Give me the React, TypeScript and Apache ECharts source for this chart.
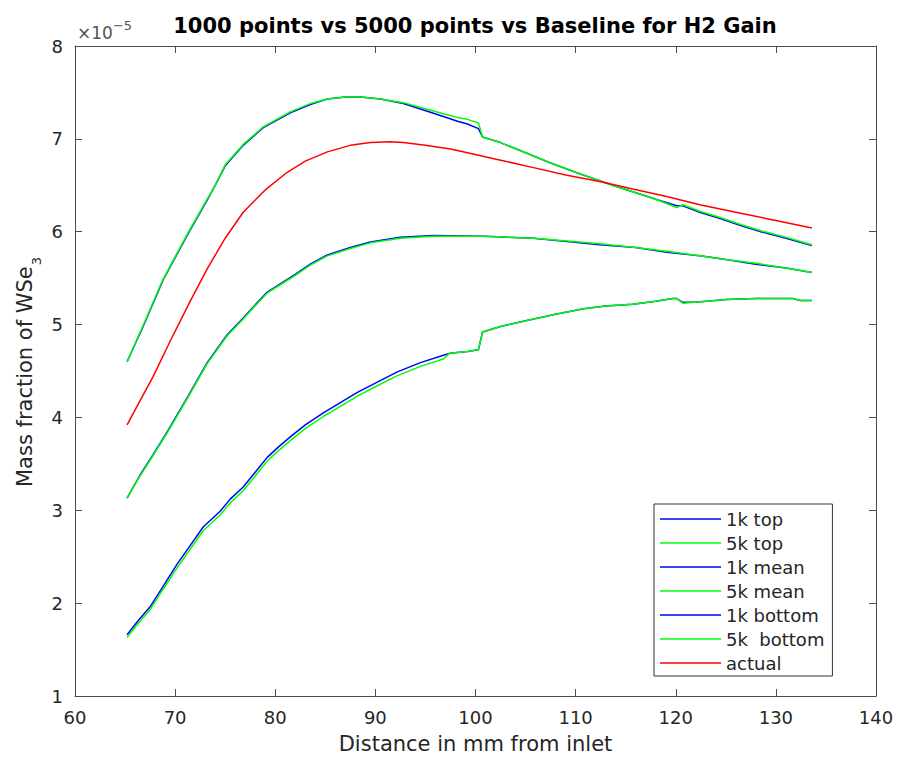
import React, { useEffect, useRef } from "react";
import * as echarts from "echarts";

// Values are in units of 1e-5 (mass fraction), x in mm
const seriesNames = ["1k top", "5k top", "1k mean", "5k mean", "1k bottom", "5k  bottom", "actual"];

const top5k: [number, number][] = [
  [65.2, 4.6], [66.8, 4.99], [68.8, 5.49], [71.3, 5.99], [73.2, 6.35], [74.0, 6.5], [75.0, 6.72],
  [76.8, 6.94], [78.8, 7.13], [81.5, 7.29], [83.5, 7.38], [85.2, 7.43], [87, 7.45], [88.5, 7.45], [90.5, 7.43],
  [92.8, 7.39], [94.8, 7.33], [96.8, 7.27], [98.2, 7.23], [99.2, 7.21], [100.3, 7.17], [100.7, 7.02],
  [102.5, 6.96], [105, 6.85], [107.5, 6.74], [110, 6.64], [112.1, 6.56], [114, 6.49], [115.7, 6.43],
  [118, 6.35], [120.1, 6.26], [120.7, 6.29], [122.4, 6.22], [124.5, 6.15], [126.4, 6.08], [128.5, 6.01],
  [131, 5.94], [133.6, 5.86],
];

const top1k: [number, number][] = [
  [65.2, 4.6], [66.8, 4.98], [68.8, 5.48], [71.3, 5.98], [73.2, 6.34], [74.0, 6.5], [75.0, 6.71],
  [76.8, 6.93], [78.8, 7.12], [81.5, 7.28], [83.5, 7.37], [85.2, 7.43], [87, 7.45], [88.5, 7.45], [90.5, 7.43],
  [92.8, 7.38], [94.8, 7.31], [96.8, 7.24], [98.2, 7.19], [99.2, 7.16], [100.3, 7.11], [100.7, 7.02],
  [102.5, 6.96], [105, 6.85], [107.5, 6.74], [110, 6.64], [112.1, 6.56], [114, 6.49], [115.7, 6.43],
  [118, 6.35], [120.1, 6.28], [120.7, 6.28], [122.4, 6.21], [124.5, 6.14], [126.4, 6.07], [128.5, 6.0],
  [131, 5.93], [133.6, 5.85],
];

const mean5k: [number, number][] = [
  [65.2, 3.13], [66.5, 3.37], [67.8, 3.59], [69.3, 3.85], [71.2, 4.2], [73.2, 4.58], [75.2, 4.88],
  [76.8, 5.06], [77.8, 5.18], [79.2, 5.34], [82, 5.53], [83.5, 5.64], [85.2, 5.74], [87.5, 5.82],
  [89.5, 5.88], [92.5, 5.93], [95.8, 5.95], [100.8, 5.95], [105.8, 5.93], [110.4, 5.89], [112.4, 5.87],
  [116, 5.83], [119.1, 5.79], [122.4, 5.74], [125, 5.7], [128, 5.66], [131, 5.61], [133.6, 5.56],
];

const mean1k: [number, number][] = [
  [65.2, 3.13], [66.5, 3.38], [67.8, 3.6], [69.3, 3.86], [71.2, 4.21], [73.2, 4.59], [75.2, 4.89],
  [76.8, 5.07], [77.8, 5.19], [79.2, 5.35], [82, 5.54], [83.5, 5.65], [85.2, 5.75], [87.5, 5.83],
  [89.5, 5.89], [92.5, 5.94], [95.8, 5.96], [100.8, 5.95], [105.8, 5.93], [110.4, 5.88], [112.4, 5.86],
  [116, 5.83], [119.1, 5.78], [122.4, 5.74], [125, 5.7], [128, 5.65], [131, 5.61], [133.6, 5.56],
];

const bottom5k: [number, number][] = [
  [65.2, 1.63], [66.3, 1.78], [67.5, 1.93], [68.8, 2.15], [70.2, 2.38], [71.5, 2.58], [72.8, 2.78],
  [74.5, 2.95], [75.5, 3.08], [76.8, 3.21], [78, 3.37], [79.2, 3.53], [80.3, 3.64], [81.5, 3.75],
  [83, 3.88], [84.8, 4.01], [86.5, 4.12], [88.2, 4.23], [90, 4.33], [92.2, 4.45], [94.5, 4.55],
  [96.8, 4.63], [97.4, 4.69], [99.2, 4.71], [100.3, 4.73], [100.7, 4.92], [102.5, 4.98], [105.8, 5.06],
  [108, 5.11], [110.8, 5.17], [113, 5.2], [115.7, 5.22], [118, 5.25], [119.7, 5.28], [120.1, 5.28],
  [120.7, 5.23], [121.9, 5.24], [125.1, 5.27], [128, 5.28], [131.7, 5.28], [132.4, 5.26], [133.6, 5.26],
];

const bottom1k: [number, number][] = [
  [65.2, 1.66], [66.3, 1.81], [67.5, 1.96], [68.8, 2.18], [70.2, 2.42], [71.5, 2.62], [72.8, 2.82],
  [74.5, 2.99], [75.5, 3.12], [76.8, 3.25], [78, 3.41], [79.2, 3.57], [80.3, 3.68], [81.5, 3.79],
  [83, 3.92], [84.8, 4.05], [86.5, 4.16], [88.2, 4.27], [90, 4.37], [92.2, 4.49], [94.5, 4.59],
  [96.8, 4.67], [97.4, 4.69], [99.2, 4.71], [100.3, 4.73], [100.7, 4.92], [102.5, 4.98], [105.8, 5.06],
  [108, 5.11], [110.8, 5.17], [113, 5.2], [115.7, 5.22], [118, 5.25], [119.7, 5.28], [120.1, 5.28],
  [120.7, 5.24], [121.9, 5.24], [125.1, 5.27], [128, 5.28], [131.7, 5.28], [132.4, 5.26], [133.6, 5.26],
];

const actual: [number, number][] = [
  [65.2, 3.92], [66.5, 4.18], [67.8, 4.44], [69.5, 4.82], [71.5, 5.25], [73.2, 5.6], [75, 5.93],
  [76.8, 6.21], [79, 6.45], [81.2, 6.64], [83, 6.76], [85.2, 6.86], [87.5, 6.93], [89.5, 6.96],
  [91.5, 6.97], [92.8, 6.96], [95, 6.93], [97.5, 6.89], [99.2, 6.85], [102.5, 6.77], [105.8, 6.69],
  [109, 6.61], [112.4, 6.54], [115.7, 6.46], [119.1, 6.38], [122.4, 6.29], [126, 6.21], [130, 6.12],
  [133.6, 6.04],
];

const seriesData = [top1k, top5k, mean1k, mean5k, bottom1k, bottom5k, actual];
const seriesColors = ["#0000ff", "#00ff00", "#0000ff", "#00ff00", "#0000ff", "#00ff00", "#ff0000"];

const FONT = "DejaVu Sans";
const AXIS_COLOR = "#4d4d4d";
const TEXT_COLOR = "#262626";

export default function App() {
  const ref = useRef<HTMLDivElement>(null);
  useEffect(() => {
    const chart = echarts.init(ref.current!, null, { renderer: "svg" });
    const baseAxis = {
      type: "value" as const,
      axisLine: { show: true, lineStyle: { color: AXIS_COLOR, width: 1 } },
      axisTick: { show: true, inside: true, length: 7, lineStyle: { color: AXIS_COLOR, width: 1 } },
      splitLine: { show: false },
    };
    chart.setOption({
      animation: false,
      backgroundColor: "#ffffff",
      title: {
        text: "1000 points vs 5000 points vs Baseline for H2 Gain",
        left: 475,
        top: 15,
        padding: 0,
        textAlign: "center",
        textStyle: { fontFamily: FONT, fontSize: 21, fontWeight: "bold", color: "#000" },
      },
      grid: { left: 75, top: 46, right: 23, bottom: 60, containLabel: false },
      xAxis: [
        {
          ...baseAxis,
          min: 60,
          max: 140,
          interval: 10,
          position: "bottom",
          axisLabel: { show: true, fontFamily: FONT, fontSize: 18, color: TEXT_COLOR, margin: 12, showMinLabel: true, showMaxLabel: true },
          name: "Distance in mm from inlet",
          nameLocation: "middle",
          nameGap: 37,
          nameTextStyle: { fontFamily: FONT, fontSize: 21, color: TEXT_COLOR },
        },
        {
          ...baseAxis,
          min: 60,
          max: 140,
          interval: 10,
          position: "top",
          axisLabel: { show: false },
        },
      ],
      yAxis: [
        {
          ...baseAxis,
          min: 1,
          max: 8,
          interval: 1,
          position: "left",
          axisLabel: { show: true, fontFamily: FONT, fontSize: 18, color: TEXT_COLOR, margin: 12, showMinLabel: true, showMaxLabel: true },
        },
        {
          ...baseAxis,
          min: 1,
          max: 8,
          interval: 1,
          position: "right",
          axisLabel: { show: false },
        },
      ],
      legend: {
        show: true,
        orient: "vertical",
        left: 654,
        top: 504,
        padding: [6, 8, 4, 6],
        itemWidth: 61,
        itemHeight: 18,
        itemGap: 6,
        icon: "path://M0,0L61,0L61,1.6L0,1.6Z",
        backgroundColor: "#ffffff",
        borderColor: "#333333",
        borderWidth: 1,
        borderRadius: 0,
        textStyle: { fontFamily: FONT, fontSize: 18, color: TEXT_COLOR },
        data: seriesNames,
      },
      graphic: [
        {
          type: "text",
          x: 25,
          y: 372,
          rotation: Math.PI / 2,
          style: {
            text: "{a|Mass fraction of WSe}{b|3}",
            align: "center",
            verticalAlign: "middle",
            rich: {
              a: { fontFamily: FONT, fontSize: 21, fill: TEXT_COLOR },
              b: { fontFamily: FONT, fontSize: 13, fill: TEXT_COLOR, padding: [22, 0, 0, 1] },
            },
          },
        },
        {
          type: "text",
          x: 77,
          y: 33,
          style: {
            text: "{a|×10}{b|−5}",
            align: "left",
            verticalAlign: "middle",
            rich: {
              a: { fontFamily: FONT, fontSize: 17, fill: "#555" },
              b: { fontFamily: FONT, fontSize: 13, fill: "#555", padding: [0, 0, 15, 0] },
            },
          },
        },
      ],
      series: seriesNames.map((name, i) => ({
        name,
        type: "line",
        xAxisIndex: 0,
        yAxisIndex: 0,
        data: seriesData[i],
        showSymbol: false,
        symbol: "none",
        smooth: false,
        lineStyle: { color: seriesColors[i], width: 1.5 },
        itemStyle: { color: seriesColors[i] },
        z: 2 + i,
      })),
    });
    return () => chart.dispose();
  }, []);
  return (
    <div
      ref={ref}
      style={{ position: "fixed", left: 0, top: 0, width: 899, height: 759, background: "#fff" }}
    />
  );
}
